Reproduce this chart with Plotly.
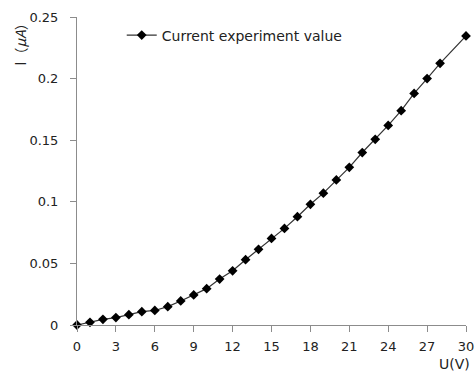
import plotly.graph_objects as go

voltage = [0, 1, 2, 3, 4, 5, 6, 7, 8, 9, 10, 11, 12, 13, 14, 15, 16, 17, 18, 19,
           20, 21, 22, 23, 24, 25, 26, 27, 28, 30]
current = [0, 0.0022, 0.0046, 0.006, 0.0084, 0.0108, 0.0118, 0.0149, 0.0195, 0.0244,
           0.0295, 0.0373, 0.044, 0.053, 0.0614, 0.0703, 0.0784, 0.0879, 0.098, 0.107,
           0.1177, 0.128, 0.140, 0.1507, 0.162, 0.174, 0.188, 0.200, 0.2124, 0.2346]
x_ticks = [0, 3, 6, 9, 12, 15, 18, 21, 24, 27, 30]
y_ticks = [0, 0.05, 0.1, 0.15, 0.2, 0.25]

FONT = "DejaVu Sans"

fig = go.Figure()
fig.add_trace(go.Scatter(
    x=voltage, y=current, mode="lines+markers",
    name="Current experiment value",
    line=dict(color="#333333", width=1.2),
    marker=dict(symbol="diamond", size=7.5, color="black"),
    cliponaxis=False,
))

axis_common = dict(
    showgrid=False, zeroline=False, showline=True, linecolor="#8c8c8c", linewidth=1,
    ticks="outside", ticklen=6, tickcolor="#8c8c8c", ticklabeloverflow="allow",
    automargin=False,
    tickfont=dict(family=FONT, size=13, color="#222222"),
)

fig.update_layout(
    width=476, height=379,
    margin=dict(l=77, r=10, t=17, b=54),
    paper_bgcolor="white", plot_bgcolor="white",
    showlegend=True,
    legend=dict(x=0.115, y=0.94, xanchor="left", yanchor="middle",
                bgcolor="rgba(0,0,0,0)", font=dict(family=FONT, size=14, color="#222222")),
    xaxis=dict(range=[0, 30], tickvals=x_ticks, ticklabelstandoff=3, **axis_common),
    yaxis=dict(range=[0, 0.25], tickvals=y_ticks, ticklabelstandoff=9, **axis_common),
    annotations=[
        dict(text="U(V)", xref="paper", yref="paper", x=1.0, y=0, xanchor="right",
             yanchor="top", yshift=-29, xshift=6, showarrow=False,
             font=dict(family=FONT, size=14, color="#222222")),
        dict(text="I（<i>μA</i>）", xref="paper", yref="paper", x=0, y=0.92,
             xanchor="center", yanchor="middle", xshift=-57, textangle=-90, showarrow=False,
             font=dict(family="Noto Sans CJK SC", size=14, color="#222222")),
    ],
)

fig.write_html("out.html")
